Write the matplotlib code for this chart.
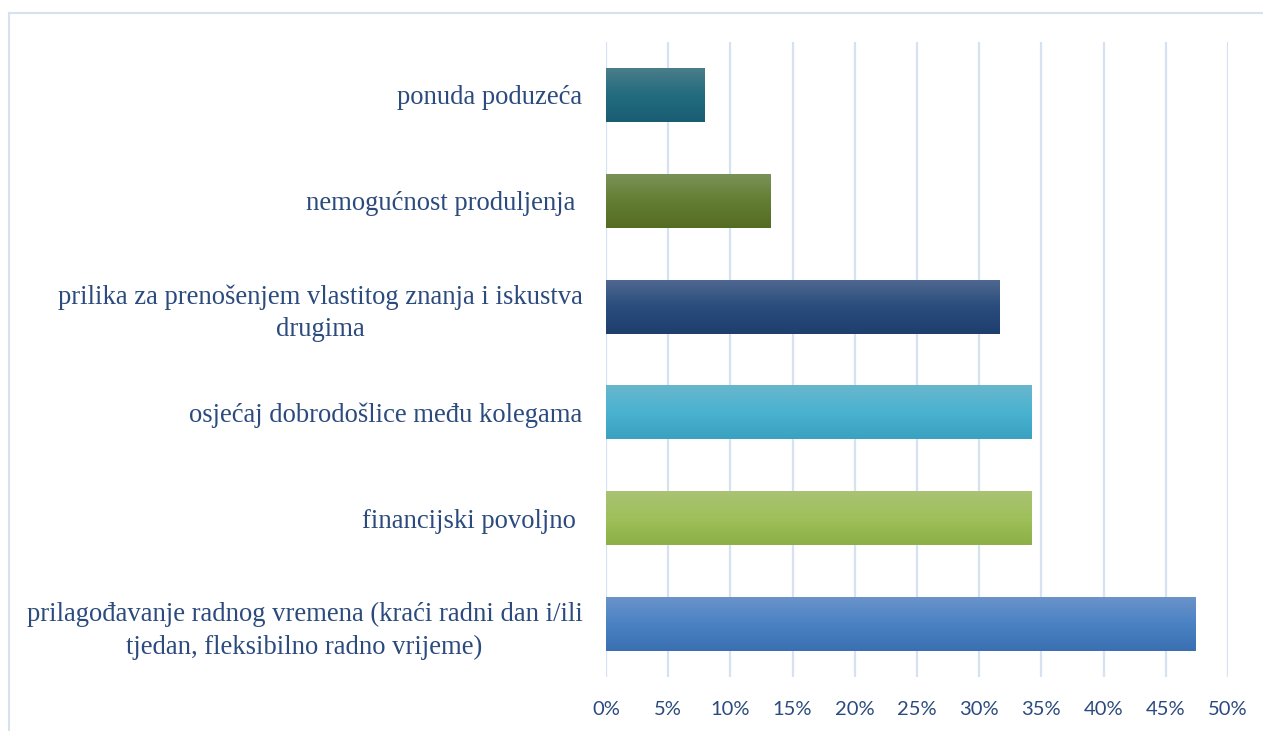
import numpy as np
import matplotlib
matplotlib.use('Agg')
import matplotlib.pyplot as plt
from matplotlib.colors import LinearSegmentedColormap
from matplotlib.ticker import PercentFormatter
from matplotlib.lines import Line2D

# podaci (odozdo prema gore, kao u Excelu)
categories = [
    'prilagođavanje radnog vremena (kraći radni dan i/ili\ntjedan, fleksibilno radno vrijeme)',
    'financijski povoljno ',
    'osjećaj dobrodošlice među kolegama',
    'prilika za prenošenjem vlastitog znanja i iskustva\ndrugima',
    'nemogućnost produljenja ',
    'ponuda poduzeća',
]
values = [0.474, 0.342, 0.342, 0.316, 0.132, 0.079]
tick_values = [0, 0.05, 0.10, 0.15, 0.20, 0.25, 0.30, 0.35, 0.40, 0.45, 0.50]

# gradijent: vrh, sredina, dno
gradients = [
    ['#6A93C9', '#4A82C4', '#3A70B2'],
    ['#A9C373', '#9FC05A', '#8CAF46'],
    ['#68B6CD', '#4AB3D0', '#3AA1C1'],
    ['#4F6890', '#284C7C', '#1F3E6E'],
    ['#7A9157', '#637E33', '#546C22'],
    ['#4A7D8A', '#226B7E', '#1A5D72'],
]

text_color = '#2B4A7D'
grid_color = '#D6E2F2'

fig = plt.figure(figsize=(12.63, 7.31), dpi=100)
ax = fig.add_axes([606 / 1263, 54 / 731, 622 / 1263, 635 / 731])

y = np.arange(len(categories))
bar_h = 0.51
bars = ax.barh(y, values, height=bar_h, color='none', zorder=3)

# gradijent unutar svakog stupca
grad = np.linspace(0, 1, 100).reshape(-1, 1)
for bar, cols in zip(bars, gradients):
    cmap = LinearSegmentedColormap.from_list('g', [cols[2], cols[1], cols[0]])
    x0, y0 = bar.get_x(), bar.get_y()
    ax.imshow(grad, cmap=cmap, origin='lower', aspect='auto',
              extent=(x0, x0 + bar.get_width(), y0, y0 + bar.get_height()),
              zorder=3, interpolation='bilinear')

ax.set_xlim(0, 0.5)
ax.set_ylim(-0.5, len(categories) - 0.5)
ax.set_xticks(tick_values)
ax.xaxis.set_major_formatter(PercentFormatter(1.0, decimals=0))
ax.set_yticks(y)
ax.set_yticklabels(categories, fontfamily='Liberation Serif', fontsize=19.2,
                   color=text_color, ha='right', multialignment='center',
                   linespacing=1.4)
for lbl in ax.get_xticklabels():
    lbl.set_fontfamily('Lato')
    lbl.set_fontsize(14.5)
    lbl.set_color(text_color)

ax.tick_params(axis='both', length=0)
ax.tick_params(axis='y', pad=17)
ax.tick_params(axis='x', pad=17)
ax.grid(axis='x', color=grid_color, linewidth=1.6, zorder=0)
ax.set_axisbelow(True)
for s in ax.spines.values():
    s.set_visible(False)

# okvir grafikona
fig.add_artist(Line2D([8.5 / 1263, 8.5 / 1263], [0, 1 - 12.5 / 731],
                      transform=fig.transFigure, color=grid_color, linewidth=1.5))
fig.add_artist(Line2D([8.5 / 1263, 1], [1 - 12.5 / 731, 1 - 12.5 / 731],
                      transform=fig.transFigure, color=grid_color, linewidth=1.5))

fig.savefig('out.png', dpi=100)
